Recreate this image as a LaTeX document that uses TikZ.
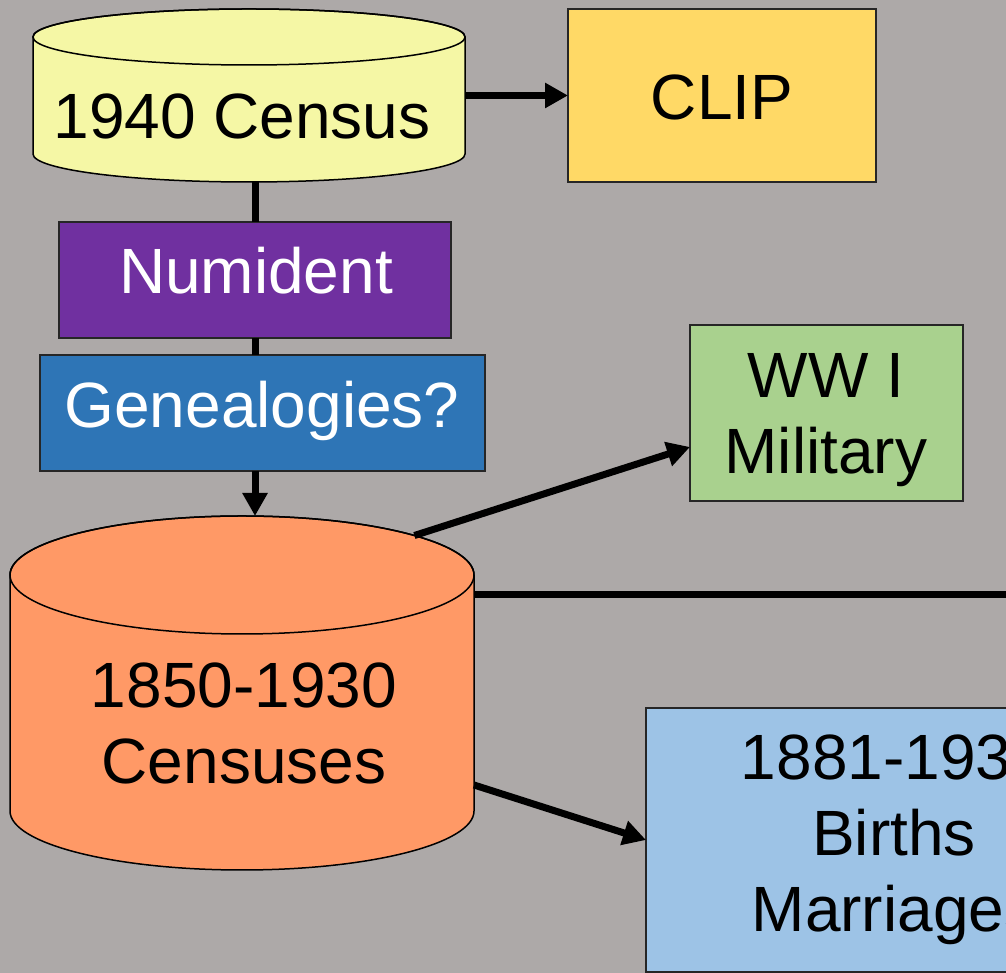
\documentclass[tikz,border=0pt]{standalone}
\usepackage{fontspec}
\setmainfont{Liberation Sans}
\usetikzlibrary{arrows.meta,calc}
\definecolor{bgc}{HTML}{ADA9A8}
\definecolor{cylyellow}{HTML}{F5F7A5}
\definecolor{cliporange}{HTML}{FFD966}
\definecolor{numpurple}{HTML}{7030A0}
\definecolor{genblue}{HTML}{2E75B6}
\definecolor{cylorange}{HTML}{FF9966}
\definecolor{wwgreen}{HTML}{A9D18E}
\definecolor{lightblue}{HTML}{9DC3E6}
\begin{document}
\begin{tikzpicture}[x=1pt,y=1pt,
  conn/.style={line width=7pt},
  arr/.style={line width=7pt,-{Triangle[length=23pt,width=24pt]}},
  boxs/.style={draw=black!85,line width=1.5pt,inner sep=0pt,outer sep=0pt},
  area/.style={inner sep=0pt,outer sep=0pt},
  cylline/.style={draw=black,line width=1.5pt},
  txt/.style={inner sep=0pt,anchor=base,font=\fontsize{64}{76}\selectfont}]
\useasboundingbox (0,0) rectangle (1006,973);
\clip (0,0) rectangle (1006,973);
\fill[bgc] (0,0) rectangle (1006,973);

% 1940 Census cylinder
\path[cylline,fill=cylyellow] (33,936) -- (33,819)
  arc[start angle=180,end angle=360,x radius=216,y radius=28] -- (465,936)
  arc[start angle=0,end angle=180,x radius=216,y radius=28] -- cycle;
\draw[cylline] (249,936) ellipse[x radius=216,y radius=28];
\node[area,minimum width=432pt,minimum height=173pt] (c40) at (249,877.5) {};

% 1850-1930 Censuses cylinder
\path[cylline,fill=cylorange] (10,398) -- (10,162)
  arc[start angle=180,end angle=360,x radius=232,y radius=59] -- (474,398)
  arc[start angle=0,end angle=180,x radius=232,y radius=59] -- cycle;
\draw[cylline] (242,398) ellipse[x radius=232,y radius=59];
\node[area,minimum width=464pt,minimum height=354pt] (c25) at (242,280) {};

% boxes
\node[boxs,fill=cliporange,minimum width=308pt,minimum height=173pt] (clip) at (722,877.5) {};
\node[boxs,fill=numpurple,minimum width=392pt,minimum height=116pt] (num) at (255,693) {};
\node[boxs,fill=genblue,minimum width=445pt,minimum height=116pt] (gen) at (262.5,560) {};
\node[boxs,fill=wwgreen,minimum width=273pt,minimum height=176pt] (ww) at (826.5,560) {};
\node[boxs,fill=lightblue,minimum width=496pt,minimum height=264pt] (births) at (894,133) {};

% connectors
\draw[arr] (c40.east) -- (clip.west);
\draw[conn] (c40.south -| num.north) -- (num.north);
\draw[conn] (num.south) -- (num.south |- gen.north);
\draw[arr] (gen.south -| num.south) -- (c25.north -| num.south);
\coordinate (c25a) at ($(242,398)+(42:232 and 59)$);
\draw[arr] (c25a) -- ($(ww.west)+(0,-34)$);
\coordinate (edgeR) at (1006,378);
\draw[conn] ($(c25.east)+(0,98)$) -- (edgeR);
\draw[arr] ($(c25.east)+(0,-92)$) -- (births.west);

% texts
\node[txt] (t40) at (242,834) {1940 Census};
\node[txt] (tclip) at (722,853) {CLIP};
\node[txt,text=white] (tnum) at (256,679) {Numident};
\node[txt,text=white] (tgen) at (262,545) {Genealogies?};
\node[txt] (t25) at (244,265) {\begin{tabular}[t]{@{}c@{}}1850-1930\\Censuses\end{tabular}};
\node[txt] (tww) at (826,575) {\begin{tabular}[t]{@{}c@{}}WW I\\Military\end{tabular}};
\node[txt] (tbirths) at (894,193) {\begin{tabular}[t]{@{}c@{}}1881-1930\\Births\\Marriages\end{tabular}};
\end{tikzpicture}
\end{document}
